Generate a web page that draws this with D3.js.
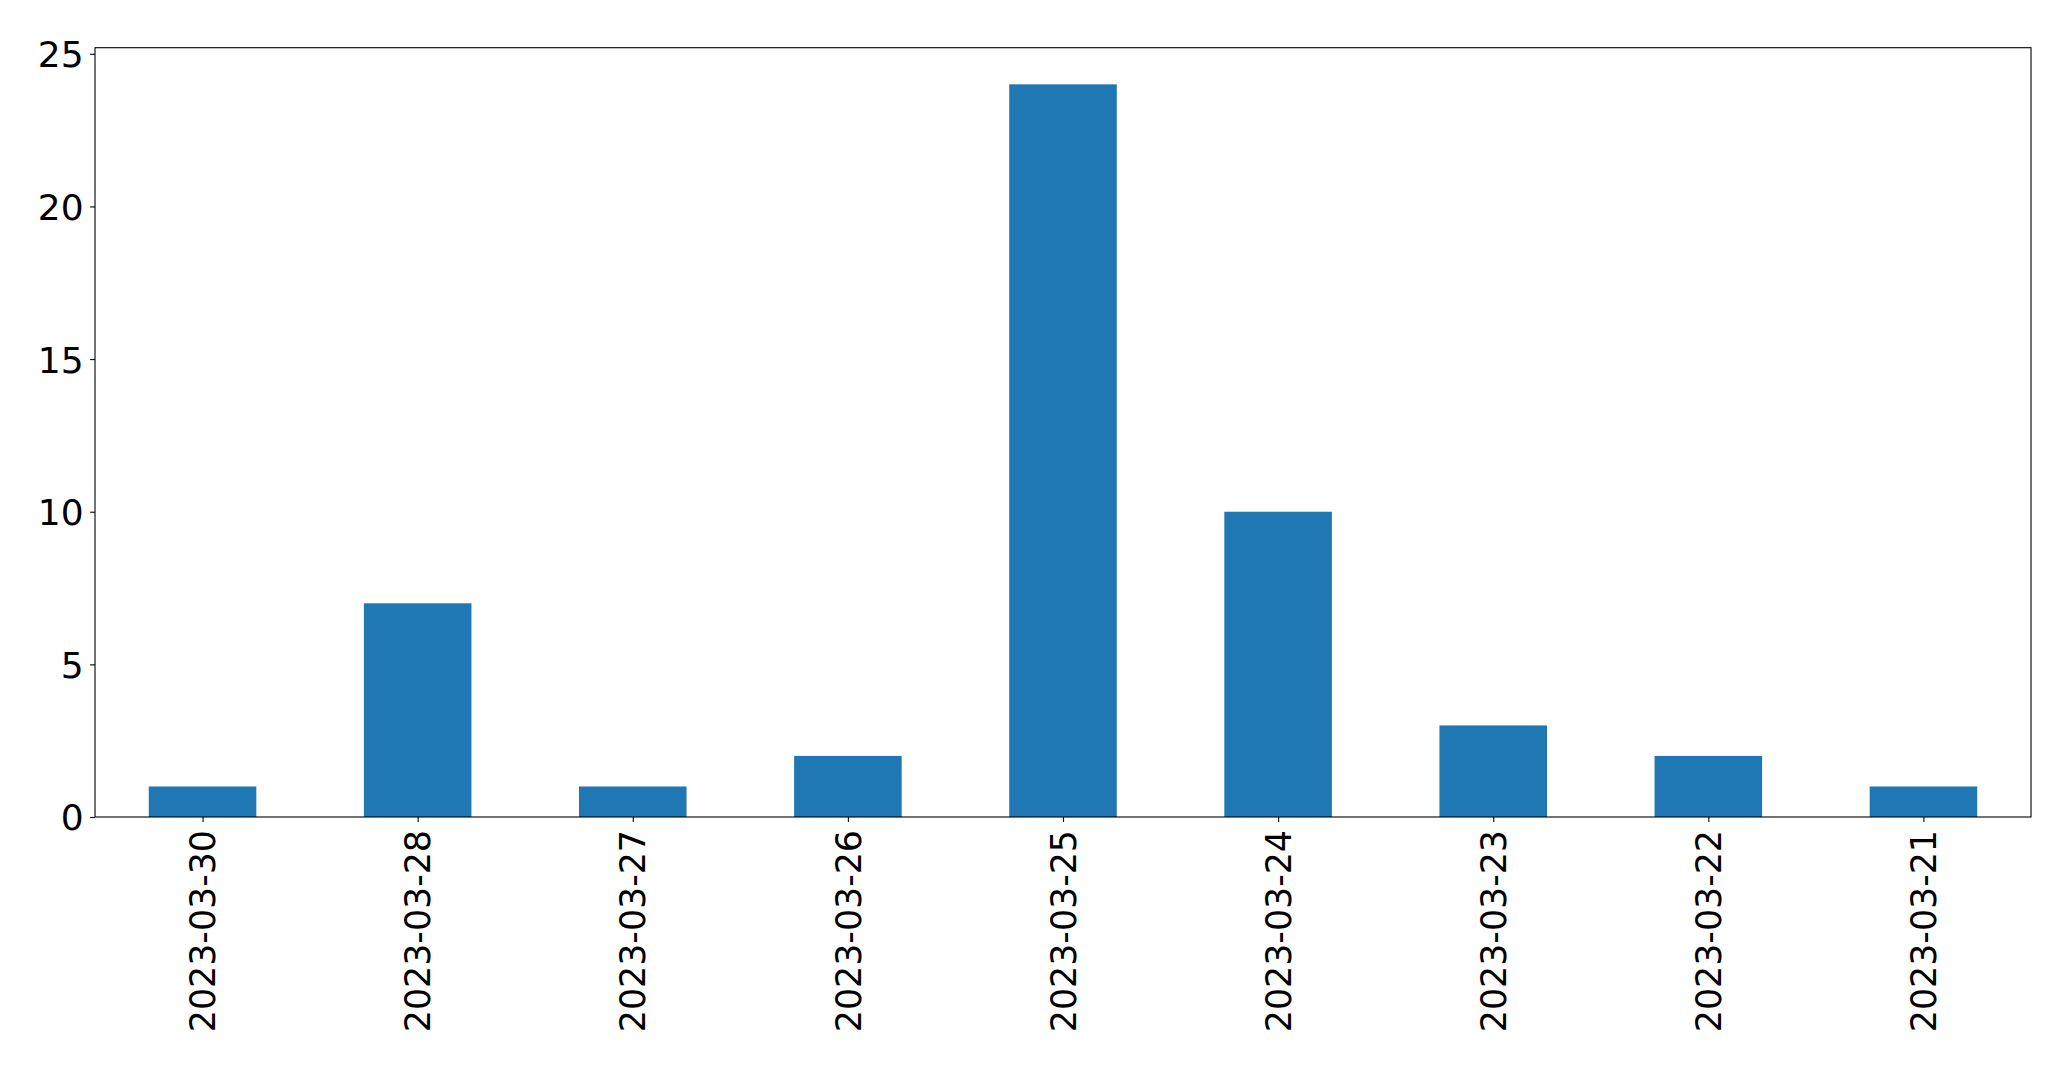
<!DOCTYPE html>
<html><head><meta charset="utf-8">
<script src="https://cdn.jsdelivr.net/npm/d3@7"></script>
<style>body{margin:0;background:#fff;}svg{display:block;}</style>
</head><body>
<script>
const categories = ["2023-03-30","2023-03-28","2023-03-27","2023-03-26","2023-03-25","2023-03-24","2023-03-23","2023-03-22","2023-03-21"];
const values = [1,7,1,2,24,10,3,2,1];
const yTicks = [0,5,10,15,20,25];

const W = 2071, H = 1069;
const m = {left:95, right:2031, top:47.7, bottom:817};
const svg = d3.select("body").append("svg").attr("width",W).attr("height",H);

const x = d3.scaleLinear().domain([-0.5, categories.length-0.5]).range([m.left, m.right]);
const y = d3.scaleLinear().domain([0, 25.2]).range([m.bottom, m.top]);
const font = "'DejaVu Sans', sans-serif";

svg.append("g").selectAll("rect").data(values).join("rect")
  .attr("x",(d,i)=>x(i-0.25)).attr("width",(d,i)=>x(i+0.25)-x(i-0.25))
  .attr("y",d=>y(d)).attr("height",d=>y(0)-y(d))
  .attr("fill","#1f77b4");

const yAxis = svg.append("g").attr("transform",`translate(${m.left},0)`)
  .call(d3.axisLeft(y).tickValues(yTicks).tickSize(4.9).tickPadding(6.5).tickFormat(d3.format("d")));
yAxis.select(".domain").remove();
yAxis.selectAll("line").attr("stroke","#000").attr("stroke-width",1.1);
yAxis.selectAll("text").attr("font-family",font).attr("font-size",36).attr("fill","#000").attr("dy","0.36em");

const xAxis = svg.append("g").attr("transform",`translate(0,${m.bottom})`)
  .call(d3.axisBottom(x).tickValues(d3.range(categories.length)).tickSize(4.9).tickFormat(i=>categories[i]));
xAxis.select(".domain").remove();
xAxis.selectAll("line").attr("stroke","#000").attr("stroke-width",1.1);
xAxis.selectAll("text")
  .attr("font-family",font).attr("font-size",34.8).attr("fill","#000")
  .attr("text-anchor","end").attr("dy","0.35em")
  .attr("transform","translate(0,13) rotate(-90)")
  .attr("x",0).attr("y",0);

svg.append("rect").attr("x",m.left).attr("y",m.top)
  .attr("width",m.right-m.left).attr("height",m.bottom-m.top)
  .attr("fill","none").attr("stroke","#000").attr("stroke-width",1.1);
</script>
</body></html>
